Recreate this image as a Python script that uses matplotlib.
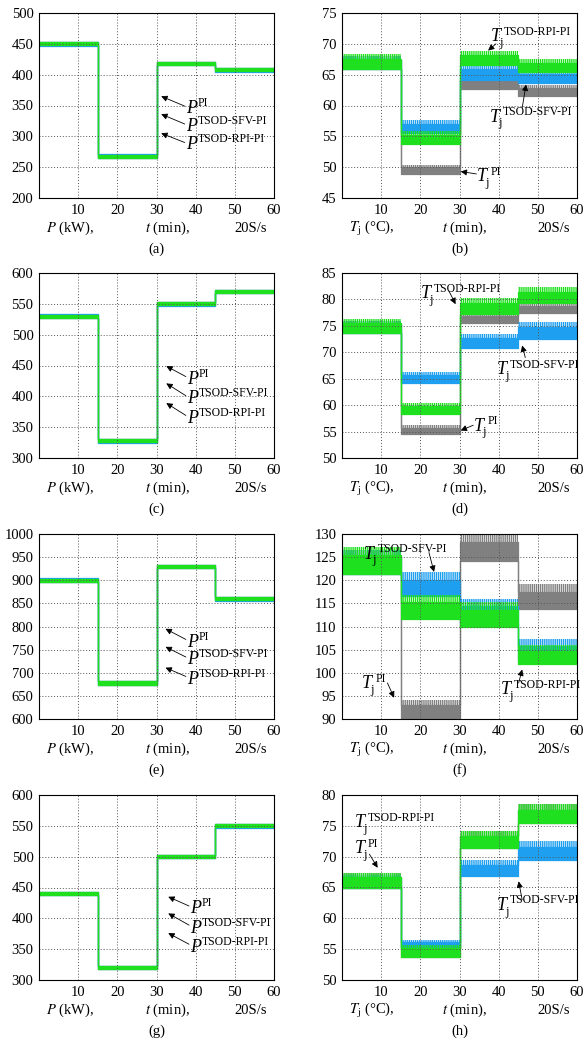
import matplotlib.pyplot as plt

plt.rcParams['font.family'] = 'Liberation Serif'
plt.rcParams['mathtext.fontset'] = 'stix'
plt.rcParams['font.size'] = 10.5
plt.rcParams['hatch.linewidth'] = 1.0

# segment boundaries (min)
t_edges = [0, 15, 30, 45, 60]

# ---- power panels: set-point levels per segment (kW) ----
a_pi = [450, 268, 418, 408]
a_sfv = [450, 268, 418, 408]
a_rpi = [450, 268, 418, 408]
c_pi = [530, 328, 550, 570]
c_sfv = [530, 328, 550, 570]
c_rpi = [530, 328, 550, 570]
e_pi = [900, 678, 930, 860]
e_sfv = [900, 678, 930, 860]
e_rpi = [900, 678, 930, 860]
g_pi = [440, 320, 500, 550]
g_sfv = [440, 320, 500, 550]
g_rpi = [440, 320, 500, 550]
p_ripple = [2.5, 2.5, 3.5, 2.5]  # half band of power ripple, (a) (c) (e) (g)

# ---- junction temperature panels: ripple band low / high per segment (degC) ----
b_pi_lo = [65.9, 48.9, 62.6, 61.6]
b_pi_hi = [68.0, 50.4, 64.8, 63.3]
b_sfv_lo = [65.9, 55.6, 64.2, 63.6]
b_sfv_hi = [68.0, 57.6, 66.6, 65.7]
b_rpi_lo = [65.9, 53.8, 66.6, 65.5]
b_rpi_hi = [68.3, 55.9, 68.9, 67.5]

d_pi_lo = [73.6, 54.5, 75.5, 77.5]
d_pi_hi = [76.0, 56.3, 77.4, 79.4]
d_sfv_lo = [73.6, 64.1, 70.8, 72.6]
d_sfv_hi = [76.0, 66.3, 73.5, 75.8]
d_rpi_lo = [73.6, 58.3, 77.2, 79.3]
d_rpi_hi = [76.3, 60.4, 80.2, 82.3]

f_pi_lo = [121.3, 90.2, 124.2, 113.7]
f_pi_hi = [126.5, 94.2, 130.0, 119.2]
f_sfv_lo = [121.3, 116.5, 110.8, 102.8]
f_sfv_hi = [126.5, 121.7, 115.9, 107.2]
f_rpi_lo = [121.3, 111.6, 109.8, 101.8]
f_rpi_hi = [127.1, 116.8, 115.2, 106.1]

h_pi_lo = [64.9, 53.8, 71.4, 75.5]
h_pi_hi = [67.4, 55.7, 74.1, 78.5]
h_sfv_lo = [64.9, 55.4, 66.8, 69.5]
h_sfv_hi = [67.0, 56.5, 69.5, 72.5]
h_rpi_lo = [64.9, 53.8, 71.4, 75.5]
h_rpi_hi = [67.4, 55.7, 74.1, 78.5]

x_ticks = [10, 20, 30, 40, 50, 60]

GRAY = '#808080'
BLUE = '#1e9ff0'
GREEN = '#1ee01e'

SUP_PI = 'PI'
SUP_SFV = 'TSOD-SFV-PI'
SUP_RPI = 'TSOD-RPI-PI'


def band(ax, lo, hi, color, ripple=True):
    lo_s = list(lo) + [lo[-1]]
    hi_s = list(hi) + [hi[-1]]
    if not ripple:
        ax.fill_between(t_edges, lo_s, hi_s, step='post', facecolor=color,
                        edgecolor=color, lw=0.9)
        return
    # solid lower part, spiky (hatched) upper part of the ripple band
    mid_s = [l + 0.7 * (h - l) for l, h in zip(lo_s, hi_s)]
    ax.fill_between(t_edges, lo_s, mid_s, step='post', facecolor=color,
                    edgecolor=color, lw=0.9)
    ax.fill_between(t_edges, mid_s, hi_s, step='post', facecolor='none',
                    edgecolor=color, hatch='||||||||', lw=0)


def power_band(ax, levels, half, color):
    band(ax, [v - half for v in levels], [v + half for v in levels], color, ripple=False)


def label(ax, base, sup, pos, tail=None, head=None):
    ax.text(pos[0], pos[1], base, fontsize=13, style='italic', ha='left', va='baseline')
    if base == 'T':
        ax.annotate('j', xy=pos, xytext=(6.0, -3.5), textcoords='offset points',
                    fontsize=9, ha='left', va='baseline')
        ax.annotate(sup, xy=pos, xytext=(9.5, 4.5), textcoords='offset points',
                    fontsize=8.5, ha='left', va='baseline')
    else:
        ax.annotate(sup, xy=pos, xytext=(8.5, 5.0), textcoords='offset points',
                    fontsize=8.5, ha='left', va='baseline')
    if head is not None:
        ax.annotate('', xy=head, xytext=tail,
                    arrowprops=dict(arrowstyle='-|>', color='black', lw=0.6,
                                    mutation_scale=9, shrinkA=0, shrinkB=0))


def style(ax, ylim, ystep, quantity, tag, tmid):
    ax.set_xlim(0, 60)
    ax.set_ylim(*ylim)
    ax.set_xticks(x_ticks)
    ax.set_yticks(range(ylim[0], ylim[1] + 1, ystep))
    ax.grid(True, color='#555555', linestyle=(0, (1, 2)), lw=0.7)
    ax.tick_params(direction='in', length=0, labelsize=10.5, pad=4)
    for s in ax.spines.values():
        s.set_linewidth(0.8)
    ax.text(0.03, -0.165, quantity, transform=ax.transAxes, ha='left', va='center')
    ax.text(tmid, -0.165, r'$t$ (min),', transform=ax.transAxes, ha='center', va='center')
    ax.text(0.90, -0.165, '20S/s', transform=ax.transAxes, ha='center', va='center')
    ax.text(0.5, -0.275, tag, transform=ax.transAxes, ha='center', va='center')


fig = plt.figure(figsize=(5.84, 10.43), dpi=100)
W, H = 584, 1043
row_bottoms = [198, 458, 719, 980]


def make_axes(col, row):
    left = [39, 342][col]
    return fig.add_axes([left / W, 1 - row_bottoms[row] / H, 235 / W, 185 / H])


power_sets = [
    (a_pi, a_sfv, a_rpi, (200, 500), 50, '(a)'),
    (c_pi, c_sfv, c_rpi, (300, 600), 50, '(c)'),
    (e_pi, e_sfv, e_rpi, (600, 1000), 50, '(e)'),
    (g_pi, g_sfv, g_rpi, (300, 600), 50, '(g)'),
]
# label anchor / arrow tail / arrow head per power panel
power_notes = [
    [((37.5, 338), (37.2, 349), (31.2, 365)),
     ((37.5, 309), (37.2, 320), (31.2, 336)),
     ((37.5, 279), (37.2, 290), (31.2, 305))],
    [((37.8, 420), (37.5, 432), (32.5, 449)),
     ((37.8, 389), (37.5, 401), (32.5, 421)),
     ((37.8, 357), (37.5, 369), (32.5, 389))],
    [((37.8, 756), (37.5, 772), (32.3, 795)),
     ((37.8, 718), (37.5, 734), (32.3, 756)),
     ((37.8, 676), (37.5, 692), (32.3, 711))],
    [((38.6, 408), (38.3, 420), (33.0, 435)),
     ((38.6, 377), (38.3, 389), (33.0, 408)),
     ((38.6, 346), (38.3, 358), (33.0, 376))],
]

for row, (pi, sfv, rpi, ylim, ystep, tag) in enumerate(power_sets):
    ax = make_axes(0, row)
    half = p_ripple[row]
    power_band(ax, pi, half, GRAY)
    power_band(ax, sfv, half + 0.4, BLUE)
    power_band(ax, rpi, half, GREEN)
    style(ax, ylim, ystep, r'$P$ (kW),', tag, 0.545)
    for sup, (pos, tail, head) in zip([SUP_PI, SUP_SFV, SUP_RPI], power_notes[row]):
        label(ax, 'P', sup, pos, tail, head)

temp_sets = [
    (b_pi_lo, b_pi_hi, b_sfv_lo, b_sfv_hi, b_rpi_lo, b_rpi_hi, (45, 75), '(b)'),
    (d_pi_lo, d_pi_hi, d_sfv_lo, d_sfv_hi, d_rpi_lo, d_rpi_hi, (50, 85), '(d)'),
    (f_pi_lo, f_pi_hi, f_sfv_lo, f_sfv_hi, f_rpi_lo, f_rpi_hi, (90, 130), '(f)'),
    (h_pi_lo, h_pi_hi, h_sfv_lo, h_sfv_hi, h_rpi_lo, h_rpi_hi, (50, 80), '(h)'),
]
temp_notes = [
    [(SUP_RPI, (38.0, 70.4), (39.3, 70.0), (37.3, 68.9)),
     (SUP_SFV, (37.8, 57.4), (46.0, 59.6), (47.0, 63.4)),
     (SUP_PI, (34.5, 47.7), (34.3, 48.9), (30.3, 49.3))],
    [(SUP_RPI, (20.1, 80.2), (27.3, 81.6), (29.0, 79.1)),
     (SUP_SFV, (39.6, 65.9), (46.8, 69.0), (46.0, 71.3)),
     (SUP_PI, (33.7, 55.2), (33.5, 56.2), (30.3, 55.2))],
    [(SUP_SFV, (5.7, 124.7), (22.2, 126.0), (23.5, 121.8)),
     (SUP_PI, (5.1, 96.7), (11.6, 97.8), (13.3, 94.6)),
     (SUP_RPI, (40.5, 95.3), (45.1, 97.8), (46.0, 100.7))],
    [(SUP_RPI, (3.2, 74.8), None, None),
     (SUP_PI, (3.2, 70.6), (7.0, 70.4), (9.1, 68.2)),
     (SUP_SFV, (39.6, 61.4), (46.0, 63.0), (45.1, 66.0))],
]

for row, (plo, phi, slo, shi, rlo, rhi, ylim, tag) in enumerate(temp_sets):
    ax = make_axes(1, row)
    band(ax, plo, phi, GRAY)
    band(ax, slo, shi, BLUE)
    band(ax, rlo, rhi, GREEN)
    style(ax, ylim, 5, r'$T_{\mathrm{j}}$ (°C),', tag, 0.52)
    for sup, pos, tail, head in temp_notes[row]:
        label(ax, 'T', sup, pos, tail, head)

fig.savefig('out.png', dpi=100)
